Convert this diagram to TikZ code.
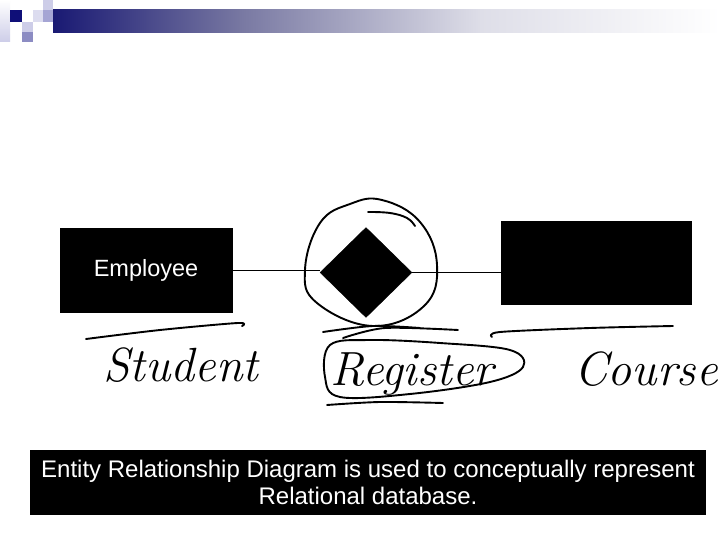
\documentclass[tikz,border=0pt]{standalone}
\usetikzlibrary{shapes.geometric}
\usepackage{fontspec}
\setmainfont{Liberation Sans}
\newfontfamily\handfont{Latin Modern Roman}
\definecolor{navy}{RGB}{15,15,120}
\definecolor{lavA}{RGB}{205,205,232}
\definecolor{lavB}{RGB}{165,165,212}
\definecolor{lavC}{RGB}{140,140,195}
\definecolor{barA}{RGB}{25,25,115}
\definecolor{barB}{RGB}{120,120,162}
\definecolor{barC}{RGB}{222,222,232}
\tikzset{
  entity/.style={fill=black, draw=black, inner sep=0pt, text=white},
  rel/.style={fill=black, draw=black, diamond, inner sep=0pt, shape aspect=1},
  link/.style={draw=black, line width=0.8pt},
  ink/.style={draw=black, line width=1.9pt, line cap=round, line join=round},
  hand/.style={font=\handfont\itshape\fontsize{48}{48}\selectfont, inner sep=0pt},
  caption/.style={fill=black, text=white, align=center, inner sep=0pt,
    font=\fontsize{24}{26.5}\selectfont}
}
\begin{document}
\begin{tikzpicture}[x=1pt,y=-1pt]
\useasboundingbox (0,0) rectangle (720,540);
\fill[white] (0,0) rectangle (720,540);
% top-left decoration
\shade[top color=white, bottom color=lavA] (0,0) rectangle (10,42);
\fill[navy] (10,10) rectangle (22,22);
\fill[lavA] (43,0) rectangle (53,10);
\fill[lavA!70] (33,10) rectangle (43,22);
\fill[lavB] (43,10) rectangle (53,22);
\fill[lavA] (22,22) rectangle (33,32);
\fill[lavC] (22,32) rectangle (33,42);
% title bar
\shade[left color=barA, right color=barB] (53,10) rectangle (241,33);
\shade[left color=barB, right color=barC] (240,10) rectangle (481,33);
\shade[left color=barC, right color=white] (480,10) rectangle (720,33);
% entities and relationship
\node[entity, minimum width=172pt, minimum height=84pt,
  font=\fontsize{23.5}{26}\selectfont] (emp) at (146,270) {Employee};
\node[entity, minimum width=190pt, minimum height=83pt] (course) at (596,263) {};
\node[rel, minimum width=92pt, minimum height=90pt] (reg) at (366,272.5) {};
\draw[link] (emp.east |- 0,270) -- (reg.west |- 0,270);
\draw[link] (reg.east) -- (course.west |- reg.east);
% hand-drawn circle around diamond
\draw[ink] plot[smooth cycle, tension=0.7] coordinates {
 (305,270) (320,223) (350,204) (382,200) (420,222) (437,265)
 (424,306) (373,326) (317,303)};
\draw[ink] plot[smooth, tension=0.7] coordinates {(368,212) (390,213) (407,218) (415,226)};
% underlines
\draw[ink] plot[smooth] coordinates {(86,339) (160,330) (238,323) (242,326)};
\draw[ink] plot[smooth] coordinates {(323,332) (373,326) (420,328)};
\draw[ink] plot[smooth] coordinates {(343,338) (385,328) (458,330)};
\draw[ink] plot[smooth] coordinates {(492,337) (500,332) (590,328) (673,326)};
% hand-written labels
\node[hand, anchor=base west] (student) at (103,381) {Student};
\node[hand, anchor=base west] (register) at (330,385) {Register};
\node[hand, anchor=base west] (coursetext) at (574,385) {Course};
\draw[ink] plot[smooth cycle, tension=0.6] coordinates {
 (330,345) (325,377) (340,397) (410,394) (490,382) (523,367) (510,350) (440,343) (370,340)};
\draw[ink] plot[smooth] coordinates {(327,405) (380,402) (443,403)};
% caption
\node[caption, minimum width=676pt, minimum height=65pt] (cap) at (368,482.5)
 {Entity Relationship Diagram is used to conceptually represent\\Relational database.};
\end{tikzpicture}
\end{document}
